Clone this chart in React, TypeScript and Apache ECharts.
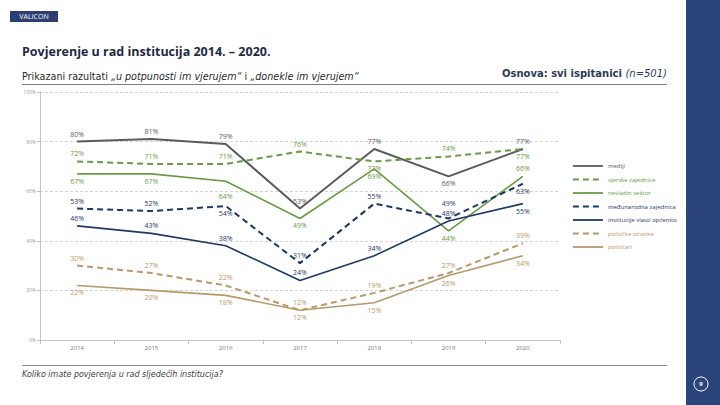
import React, { useEffect, useRef } from 'react';
import * as echarts from 'echarts';

const categories = ['2014', '2015', '2016', '2017', '2018', '2019', '2020'];
const yTicks = [0, 20, 40, 60, 80, 100];

const mediji = [80, 81, 79, 53, 77, 66, 77];
const vjerske = [72, 71, 71, 76, 72, 74, 77];
const nevladin = [67, 67, 64, 49, 69, 44, 66];
const medunarodna = [53, 52, 54, 31, 55, 49, 63];
const institucije = [46, 43, 38, 24, 34, 48, 55];
const stranke = [30, 27, 22, 12, 19, 27, 39];
const politicari = [22, 20, 18, 12, 15, 26, 34];

const seriesNames = [
  'mediji',
  'vjerske zajednice',
  'nevladin sektor',
  'međunarodna zajednica',
  'institucije vlasti općenito',
  'političke stranke',
  'političari',
];

// label placement (style)
const T = 'top';
const B = 'bottom';
const labelPos = [
  [T, T, T, T, T, B, T],
  [T, T, T, T, B, T, B],
  [B, B, B, B, B, B, T],
  [T, T, B, T, T, T, B],
  [T, T, T, T, T, T, B],
  [T, T, T, T, T, T, T],
  [B, B, B, B, B, B, B],
];
// extra label distance for crowded spots (style)
const labelDistOverrides: Record<string, number> = { '2-2': 12, '3-5': 11 };

const GRAY = '#5b5b5b';
const GREEN = '#6b9a45';
const NAVY = '#1f3864';
const TAN = '#b89a6a';

const seriesColors = [GRAY, GREEN, GREEN, NAVY, NAVY, TAN, TAN];
const seriesDashed = [false, true, false, true, false, true, false];
const seriesWidth = [2, 2, 1.6, 2, 1.6, 2, 1.6];
const seriesValues = [mediji, vjerske, nevladin, medunarodna, institucije, stranke, politicari];

export default function App() {
  const ref = useRef<HTMLDivElement>(null);

  useEffect(() => {
    const chart = echarts.init(ref.current as HTMLDivElement, null, { renderer: 'svg' });

    const series = seriesValues.map((vals, i) => ({
      name: seriesNames[i],
      type: 'line',
      symbol: 'circle',
      symbolSize: 0.01,
      showSymbol: true,
      data: vals.map((v, j) => {
        const d = labelDistOverrides[`${i}-${j}`];
        return {
          value: v,
          label: d !== undefined ? { position: labelPos[i][j], distance: d } : { position: labelPos[i][j] },
        };
      }),
      lineStyle: {
        color: seriesColors[i],
        width: seriesWidth[i],
        type: seriesDashed[i] ? [6, 4] : 'solid',
      },
      itemStyle: { color: seriesColors[i] },
      label: {
        show: true,
        formatter: '{c}%',
        fontSize: 7,
        fontFamily: 'Open Sans',
        color: seriesColors[i],
        distance: 4,
      },
      z: 3,
    }));

    const option: any = {
      animation: false,
      backgroundColor: '#ffffff',
      grid: { left: 40, right: 160, top: 92, bottom: 65 },
      xAxis: {
        type: 'category',
        data: categories,
        boundaryGap: true,
        axisLine: { lineStyle: { color: '#c4c4c4' } },
        axisTick: { show: true, lineStyle: { color: '#c4c4c4' }, length: 4 },
        axisLabel: { fontSize: 6, color: '#7a7a7a', margin: 5, fontFamily: 'Open Sans' },
      },
      yAxis: {
        type: 'value',
        min: yTicks[0],
        max: yTicks[yTicks.length - 1],
        interval: 20,
        axisLine: { show: true, lineStyle: { color: '#c4c4c4' } },
        axisTick: { show: true, length: 3, lineStyle: { color: '#c4c4c4' } },
        axisLabel: { formatter: '{value}%', fontSize: 5, color: '#a0a0a0', margin: 4, fontFamily: 'Open Sans' },
        splitLine: { lineStyle: { color: '#d4d4d4', type: [3, 2] } },
      },
      legend: {
        orient: 'vertical',
        left: 567,
        top: 157,
        itemWidth: 30,
        itemHeight: 8,
        itemGap: 5.5,
        itemStyle: { color: 'rgba(0,0,0,0)', borderWidth: 0, opacity: 0 },
        lineStyle: { width: 1.8 },
        textStyle: { fontSize: 6, fontFamily: 'Open Sans', lineHeight: 8 },
        data: seriesNames.map((n, i) => ({ name: n, textStyle: { color: seriesColors[i] } })),
      },
      series,
      graphic: [
        { type: 'rect', shape: { x: 686, y: 0, width: 34, height: 405 }, style: { fill: '#2b4479' }, silent: true },
        { type: 'circle', shape: { cx: 701, cy: 384, r: 7 }, style: { fill: 'none', stroke: '#ffffff', lineWidth: 1 } },
        { type: 'text', x: 701, y: 384, style: { text: '9', fill: '#ffffff', fontSize: 6, fontWeight: 'bold', align: 'center', verticalAlign: 'middle', fontFamily: 'Open Sans' } },
        { type: 'rect', shape: { x: 10, y: 11, width: 48, height: 11 }, style: { fill: '#2b3f74' } },
        { type: 'text', x: 34, y: 16.5, style: { text: 'VALICON', fill: '#ffffff', fontSize: 7, align: 'center', verticalAlign: 'middle', fontFamily: 'Open Sans' } },
        {
          type: 'text', x: 22, y: 51,
          style: { text: 'Povjerenje u rad institucija 2014. – 2020.', fill: '#1f2a44', fontSize: 12.5, fontWeight: 'bold', fontFamily: 'Open Sans', verticalAlign: 'middle' },
        },
        {
          type: 'text', x: 22, y: 76,
          style: {
            text: '{n|Prikazani razultati }{i|„u potpunosti im vjerujem“}{n| i }{i|„donekle im vjerujem“}',
            verticalAlign: 'middle',
            rich: {
              n: { fontSize: 9.6, fill: '#2a2a2a', fontFamily: 'DejaVu Sans' },
              i: { fontSize: 9.6, fill: '#2a2a2a', fontFamily: 'DejaVu Sans', fontStyle: 'italic' },
            },
          },
        },
        {
          type: 'text', x: 667, y: 73.5,
          style: {
            text: '{b|Osnova: svi ispitanici }{i|(n=501)}',
            align: 'right',
            verticalAlign: 'middle',
            rich: {
              b: { fontSize: 10, fill: '#2b3a55', fontFamily: 'DejaVu Sans', fontWeight: 'bold' },
              i: { fontSize: 10, fill: '#2b3a55', fontFamily: 'DejaVu Sans', fontStyle: 'italic' },
            },
          },
        },
        { type: 'line', shape: { x1: 22, y1: 84.5, x2: 667, y2: 84.5 }, style: { stroke: '#808080', lineWidth: 1 } },
        { type: 'line', shape: { x1: 22, y1: 365.5, x2: 667, y2: 365.5 }, style: { stroke: '#8a8a8a', lineWidth: 1 } },
        {
          type: 'text', x: 22, y: 374,
          style: { text: 'Koliko imate povjerenja u rad sljedećih institucija?', fill: '#404040', fontSize: 8, fontStyle: 'italic', fontFamily: 'DejaVu Sans', verticalAlign: 'middle' },
        },
      ],
    };

    chart.setOption(option);
    return () => chart.dispose();
  }, []);

  return (
    <div
      ref={ref}
      style={{ position: 'fixed', left: 0, top: 0, width: 720, height: 405, background: '#ffffff' }}
    />
  );
}
